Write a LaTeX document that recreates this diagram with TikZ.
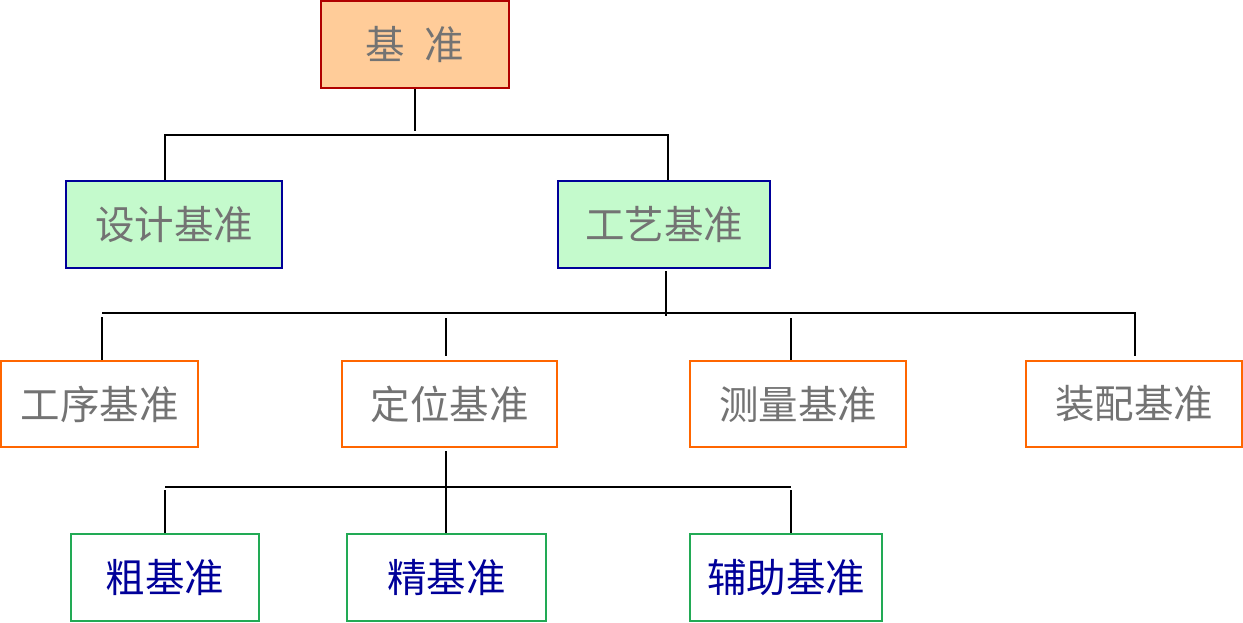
\documentclass[tikz,border=0pt]{standalone}
\usepackage{fontspec}
\newfontfamily\cjk{Noto Sans CJK SC}
\definecolor{txtgray}{HTML}{737373}
\definecolor{txtblue}{HTML}{000099}
\definecolor{rootfill}{HTML}{FFCC99}
\definecolor{rootline}{HTML}{B00000}
\definecolor{greenfill}{HTML}{C4FACC}
\definecolor{blueline}{HTML}{000099}
\definecolor{orangeline}{HTML}{FF6600}
\definecolor{greenline}{HTML}{22AA55}
\tikzset{
  box/.style={draw, line width=2.6pt, inner sep=0pt, font=\cjk\fontsize{39.5}{44}\selectfont},
  rootbox/.style={box, fill=rootfill, draw=rootline, text=txtgray},
  lvlone/.style={box, fill=greenfill, draw=blueline, text=txtgray},
  lvltwo/.style={box, fill=white, draw=orangeline, text=txtgray},
  lvlthree/.style={box, fill=white, draw=greenline, text=txtblue},
  conn/.style={line width=2.8pt, black}
}
\begin{document}
\begin{tikzpicture}[x=1pt,y=-1pt]
\useasboundingbox (0,0) rectangle (1243,623);
% boxes
\node[rootbox, minimum width=188pt, minimum height=87pt] (root) at (415,44.5) {基\hspace{0.5em}准};
\node[lvlone, minimum width=216pt, minimum height=87pt] (sheji) at (174,224.5) {设计基准};
\node[lvlone, minimum width=212pt, minimum height=87pt] (gongyi) at (664,224.5) {工艺基准};
\node[lvltwo, minimum width=197pt, minimum height=86pt] (gongxu) at (99.5,404) {工序基准};
\node[lvltwo, minimum width=215pt, minimum height=86pt] (dingwei) at (449.5,404) {定位基准};
\node[lvltwo, minimum width=216pt, minimum height=86pt] (celiang) at (798,404) {测量基准};
\node[lvltwo, minimum width=216pt, minimum height=86pt] (zhuangpei) at (1134,404) {装配基准};
\node[lvlthree, minimum width=188pt, minimum height=87pt] (cu) at (165,577.5) {粗基准};
\node[lvlthree, minimum width=199pt, minimum height=87pt] (jing) at (446.5,577.5) {精基准};
\node[lvlthree, minimum width=192pt, minimum height=87pt] (fuzhu) at (786,577.5) {辅助基准};
% connector coordinates
\coordinate (r1) at (415,131);
\coordinate (h1l) at (165,135);
\coordinate (h1r) at (668,135);
\coordinate (g1) at (666,271);
\coordinate (g2) at (666,316);
\coordinate (h2l) at (102,313);
\coordinate (h2r) at (1135,313);
\coordinate (v2a) at (102,317);
\coordinate (v2b) at (446,318);
\coordinate (v2be) at (446,356);
\coordinate (v2c) at (791,318);
\coordinate (v2d) at (1135,356);
\coordinate (d1) at (446,451);
\coordinate (h3l) at (165,487);
\coordinate (h3r) at (791,487);
\coordinate (v3a) at (165,490);
\coordinate (v3c) at (791,490);
% connectors
\draw[conn] (root.south) -- (r1);
\draw[conn] (h1l |- sheji.north) -- (h1l) -- (h1r) -- (h1r |- gongyi.north);
\draw[conn] (g1) -- (g2);
\draw[conn] (h2l) -- (h2r) -- (v2d);
\draw[conn] (v2a) -- (v2a |- gongxu.north);
\draw[conn] (v2b) -- (v2be);
\draw[conn] (v2c) -- (v2c |- celiang.north);
\draw[conn] (d1) -- (d1 |- jing.north);
\draw[conn] (h3l) -- (h3r);
\draw[conn] (v3a) -- (v3a |- cu.north);
\draw[conn] (v3c) -- (v3c |- fuzhu.north);
\end{tikzpicture}
\end{document}
